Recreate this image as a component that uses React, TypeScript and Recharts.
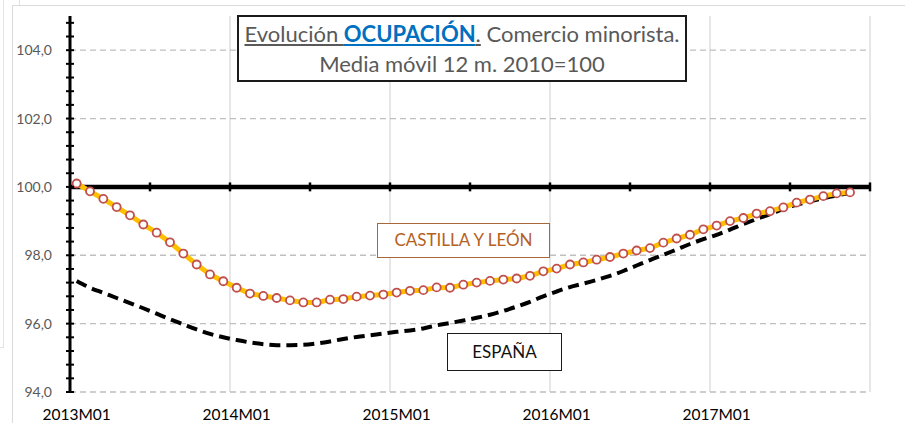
import React from "react";
import { LineChart, Line, XAxis, YAxis, ReferenceLine } from "recharts";

// monthly periods 2013M01 .. 2017M12 (last month has no data)
const years = [2013, 2014, 2015, 2016, 2017];
const periods = years.flatMap((y) =>
  Array.from({ length: 12 }, (_, m) => `${y}M${String(m + 1).padStart(2, "0")}`)
);

// Castilla y León, media móvil 12 m. (2010=100)
const cylValues = [
  100.1, 99.87, 99.65, 99.41, 99.17, 98.9, 98.66, 98.38, 98.05, 97.73, 97.44, 97.24,
  97.05, 96.88, 96.81, 96.75, 96.68, 96.62, 96.62, 96.7, 96.72, 96.79, 96.82, 96.85,
  96.91, 96.96, 96.98, 97.06, 97.05, 97.14, 97.2, 97.25, 97.29, 97.32, 97.4, 97.53,
  97.61, 97.73, 97.79, 97.87, 97.95, 98.05, 98.14, 98.21, 98.37, 98.49, 98.6, 98.76,
  98.87, 99.0, 99.09, 99.22, 99.29, 99.4, 99.54, 99.63, 99.73, 99.81, 99.84,
];

// España
const espValues = [
  97.25, 97.05, 96.9, 96.75, 96.6, 96.45, 96.29, 96.13, 95.98, 95.83, 95.7, 95.6,
  95.52, 95.45, 95.4, 95.37, 95.37, 95.38, 95.42, 95.48, 95.55, 95.61, 95.66, 95.71,
  95.76, 95.8, 95.86, 95.95, 96.02, 96.09, 96.17, 96.26, 96.37, 96.5, 96.64, 96.8,
  96.94, 97.07, 97.17, 97.28, 97.4, 97.54, 97.7, 97.86, 98.01, 98.17, 98.33, 98.47,
  98.6, 98.75, 98.91, 99.06, 99.2, 99.36, 99.48, 99.58, 99.67, 99.75, 99.82,
];

const xTickLabels = ["2013M01", "2014M01", "2015M01", "2016M01", "2017M01"];
const yMajorTicks = [94, 96, 98, 100, 102, 104];
const yMinorStep = 0.4;
const yDomain = [94, 105];
const baseValue = 100;
const halfYearTicks = [6, 12, 18, 24, 30, 36, 42, 48, 54, 60];
const yearLines = [12, 24, 36, 48, 60];

const data = cylValues.map((v, i) => ({
  x: i + 0.5,
  period: periods[i],
  cyl: v,
  esp: espValues[i],
}));

const xTicks = xTickLabels.map((l) => periods.indexOf(l) + 0.5);
const yTicks: number[] = [];
for (let k = 0; yDomain[0] + k * yMinorStep <= 104.8 + 1e-6; k++) {
  yTicks.push(Math.round((yDomain[0] + k * yMinorStep) * 10) / 10);
}

const FONT = "Lato, 'Open Sans', sans-serif";

const YTick = (props: any) => {
  const { x, y, payload } = props;
  const v = payload.value as number;
  const major = yMajorTicks.some((t) => Math.abs(t - v) < 1e-6);
  return (
    <g>
      <line x1={x - 4} x2={x + 4} y1={y} y2={y} stroke="#000" strokeWidth={2} />
      {major && (
        <text
          x={x - 18}
          y={y}
          dy={5}
          textAnchor="end"
          fill="#595959"
          fontSize={14}
          fontFamily={FONT}
        >
          {v.toFixed(1).replace(".", ",")}
        </text>
      )}
    </g>
  );
};

export default function App() {
  return (
    <div
      style={{
        position: "absolute",
        left: 0,
        top: 0,
        width: 905,
        height: 423,
        background: "#fff",
        overflow: "hidden",
        fontFamily: FONT,
      }}
    >
      {/* spreadsheet cell lines + chart frame */}
      <div style={{ position: "absolute", left: 3, top: 0, width: 1, height: 347, background: "#E3E3E3" }} />
      <div style={{ position: "absolute", left: 0, top: 347, width: 4, height: 1, background: "#E3E3E3" }} />
      <div style={{ position: "absolute", left: 19, top: 0, width: 1, height: 6, background: "#E3E3E3" }} />
      <div
        style={{
          position: "absolute",
          left: 12,
          top: 5,
          width: 920,
          height: 440,
          border: "1.5px solid #DADADA",
        }}
      />

      <div style={{ position: "absolute", left: 0, top: 0 }}>
        <LineChart
          width={905}
          height={423}
          data={data}
          margin={{ top: 16, right: 35, left: 0, bottom: 0 }}
        >
          <XAxis
            type="number"
            dataKey="x"
            domain={[0, 60]}
            ticks={xTicks}
            tickFormatter={(v) => periods[Math.floor(v)]}
            axisLine={false}
            tickLine={false}
            tickSize={0}
            tickMargin={17}
            height={31}
            interval={0}
            tick={{ fill: "#000", fontSize: 15.5, fontFamily: FONT }}
          />
          <YAxis
            type="number"
            domain={yDomain}
            ticks={yTicks}
            interval={0}
            width={70}
            tickSize={0}
            tickMargin={0}
            tickLine={false}
            axisLine={{ stroke: "#000", strokeWidth: 3 }}
            tick={<YTick />}
          />

          {yearLines.map((m) => (
            <ReferenceLine key={`v${m}`} x={m} stroke="#D9D9D9" strokeWidth={1.3} />
          ))}
          {yMajorTicks.map((t) => (
            <ReferenceLine
              key={`h${t}`}
              y={t}
              stroke="#BFBFBF"
              strokeWidth={1.3}
              strokeDasharray="6 4"
            />
          ))}
          <ReferenceLine y={baseValue} stroke="#000" strokeWidth={4.5} />
          {halfYearTicks.map((m) => (
            <ReferenceLine
              key={`t${m}`}
              segment={[
                { x: m, y: baseValue - 0.13 },
                { x: m, y: baseValue + 0.13 },
              ]}
              stroke="#000"
              strokeWidth={2.5}
            />
          ))}

          <Line
            dataKey="esp"
            type="monotone"
            stroke="#000"
            strokeWidth={4}
            strokeDasharray="11 6"
            dot={false}
            isAnimationActive={false}
          />
          <Line
            dataKey="cyl"
            type="linear"
            stroke="#FFC000"
            strokeWidth={5}
            dot={{ r: 4, stroke: "#C0504D", strokeWidth: 1.8, fill: "#fff" }}
            isAnimationActive={false}
          />
        </LineChart>
      </div>

      {/* title */}
      <div
        style={{
          position: "absolute",
          left: 237,
          top: 15,
          width: 450,
          height: 67,
          boxSizing: "border-box",
          border: "2px solid #1a1a1a",
          background: "#fff",
          color: "#595959",
          fontSize: 22,
          textAlign: "center",
          lineHeight: "30px",
          paddingTop: 2,
        }}
      >
        <div>
          <span style={{ textDecoration: "underline" }}>Evolución </span>
          <span style={{ color: "#0070C0", fontWeight: 700, textDecoration: "underline" }}>
            OCUPACIÓN
          </span>
          <span style={{ textDecoration: "underline" }}>.</span> Comercio minorista.
        </div>
        <div>Media móvil 12 m. 2010=100</div>
      </div>

      {/* series labels */}
      <div
        style={{
          position: "absolute",
          left: 377,
          top: 223,
          width: 173,
          height: 35,
          boxSizing: "border-box",
          border: "1.5px solid #A8693A",
          background: "#fff",
          color: "#B5601E",
          fontSize: 17,
          textAlign: "center",
          lineHeight: "32px",
        }}
      >
        CASTILLA Y LEÓN
      </div>
      <div
        style={{
          position: "absolute",
          left: 447,
          top: 333,
          width: 115,
          height: 38,
          boxSizing: "border-box",
          border: "1.5px solid #1a1a1a",
          background: "#fff",
          color: "#111",
          fontSize: 17,
          textAlign: "center",
          lineHeight: "35px",
        }}
      >
        ESPAÑA
      </div>
    </div>
  );
}
